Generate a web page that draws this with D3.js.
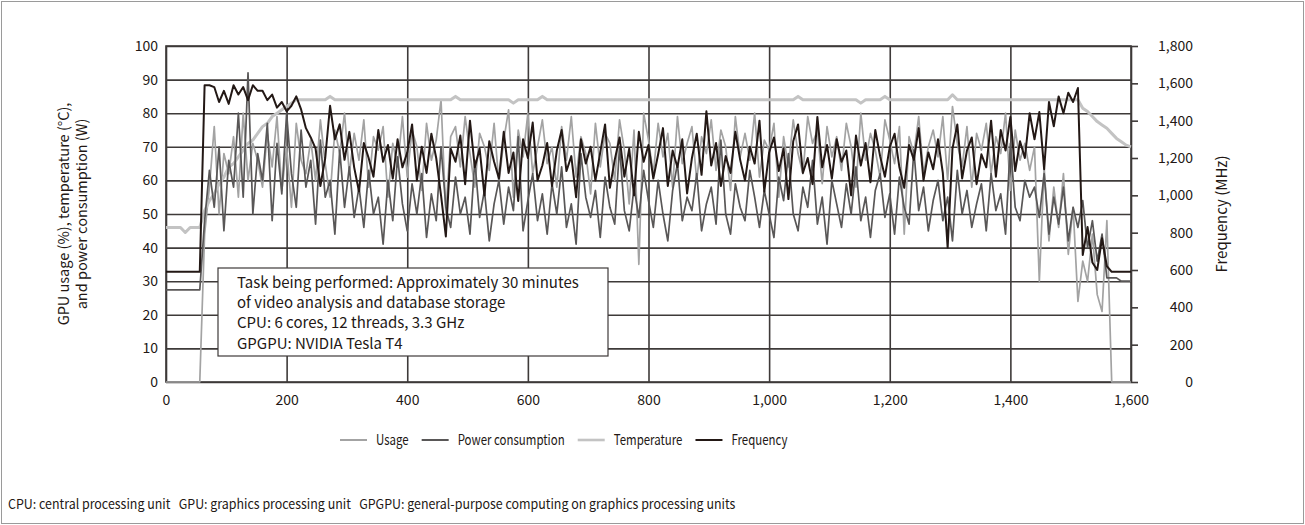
<!DOCTYPE html>
<html>
<head>
<meta charset="utf-8">
<script src="https://cdn.jsdelivr.net/npm/d3@7"></script>
<style>
body{margin:0;background:#fff;}
text{font-family:"Noto Sans CJK JP","Noto Sans",sans-serif;fill:#231815;}
</style>
</head>
<body>
<div id="root"></div>
<script>
//chart values, one sample every 8 time units from 0 to 1,600
var times = d3.range(0, 1601, 8);

var usage = [
 0,0,0,0,0,0,0,0,44,58,
 76,50,68,62,73,55,80,60,71,66,
 58,74,64,79,57,70,52,77,66,62,
 72,60,78,65,55,75,68,80,62,74,
 66,78,58,73,69,76,55,71,64,79,
 61,75,70,57,77,66,72,84,50,73,
 76,64,79,68,58,74,70,63,77,59,
 72,81,55,75,67,80,62,70,78,65,
 70,58,76,66,79,61,73,68,56,77,
 64,74,71,60,78,69,53,75,35,80,
 72,62,77,67,74,58,79,65,71,76,
 60,73,68,78,63,75,70,57,79,67,
 74,66,80,61,72,69,77,55,73,64,
 78,68,62,79,71,75,59,76,67,73,
 63,77,70,58,80,66,74,69,61,78,
 72,65,76,44,73,68,79,62,70,75,
 67,79,60,82,71,64,76,58,74,69,
 77,62,73,68,80,57,75,66,71,63,
 70,30,64,42,58,46,62,38,52,24,
 36,30,44,26,21,48,0,0,0,0,
 0];

var power = [
 27.4,27.4,27.4,27.4,27.4,27.4,27.4,27.4,48,63,
 52,70,45,66,58,80,55,92,50,68,
 60,77,48,71,56,80,62,52,75,58,
 66,47,72,55,60,44,69,52,64,49,
 58,46,63,50,55,41,60,48,67,53,
 45,59,50,62,43,56,48,70,52,46,
 61,50,55,44,66,49,57,42,53,60,
 47,58,51,73,45,54,62,48,56,44,
 59,50,64,46,53,41,68,55,49,57,
 43,61,52,47,70,51,45,58,49,63,
 54,46,60,50,42,57,65,48,55,51,
 62,45,53,58,47,72,50,44,59,52,
 48,63,55,46,57,50,43,61,54,68,
 50,45,58,52,66,47,55,41,60,53,
 46,59,50,64,48,55,43,57,62,49,
 56,44,61,52,47,69,51,58,45,54,
 60,48,55,42,63,50,57,46,53,59,
 45,62,51,56,44,71,52,48,60,55,
 58,49,62,44,55,47,58,42,52,46,
 54,40,48,36,44,31,31,31,30,30,
 30];

var temperature = [
 46,46,46,46,44.5,46,46,46,51,54,
 56,59,61,64,65,67,69,71,72,74,
 76,77,79,80,81,82,83,84,84,84,
 84,84,84,84,85,84,84,84,84,84,
 84,84,84,84,84,84,84,84,84,84,
 84,84,84,84,84,84,84,84,84,84,
 85,84,84,84,84,84,84,84,84,84,
 84,84,83,84,84,84,84,84,85,84,
 84,84,84,84,84,84,84,84,84,84,
 84,84,84,84,84,84,84,84,84,84,
 84,84,84,84,84,84,84,84,84,84,
 84,84,84,84,84,84,84,84,84,84,
 84,84,84,84,84,84,84,84,84,84,
 84,85,84,84,84,84,84,84,84,84,
 84,84,84,84,83,84,84,84,84,85,
 84,84,84,84,84,84,84,84,84,84,
 84,84,84,85.5,84,84,84,84,84,84,
 84,84,84,84,84,84,84,84,84,84,
 84,84,84,84,84,84,84,84,84,84,
 81.5,80.5,79,77.5,76.5,75.5,74,72.5,71.5,70.5,
 70];

var frequency = [
 590,590,590,590,590,590,590,590,1590,1590,
 1580,1500,1560,1490,1590,1540,1580,1510,1590,1560,
 1560,1510,1540,1470,1500,1450,1480,1530,1460,1360,
 1310,1250,1050,1200,1480,1300,1380,1190,1340,1150,
 1020,1280,1200,1100,1350,1180,1270,1090,1300,1150,
 1230,1380,1080,1260,1120,1330,1200,1000,780,1250,
 1180,1320,1060,1400,1150,1250,1000,1290,1180,1090,
 1340,1120,1230,970,1300,1200,1390,1080,1160,1280,
 1050,1240,1350,1130,1210,990,1300,1170,1260,1080,
 1230,1380,1040,1190,1310,1100,1250,1000,1340,1180,
 1270,1090,1220,1360,1050,1240,1150,1300,1010,1200,
 1330,1110,1450,1160,1280,1050,1210,1120,1340,1190,
 1080,1260,1170,1400,1020,1230,1310,1130,1250,980,
 1290,1380,1120,1200,1060,1420,1150,1270,1090,1300,
 1180,1240,1000,1320,1160,1280,1070,1350,1210,1100,
 1260,1330,1150,1040,1270,1190,1360,1080,1230,1140,
 1300,1120,720,1250,1380,1090,1240,1310,1060,1220,
 1150,1400,1100,1350,1240,1420,1130,1290,1200,1440,
 1300,1446,1140,1500,1370,1530,1440,1550,1500,1575,
 680,830,640,600,770,620,590,590,590,590,
 590];

var xTicks = [0,200,400,600,800,1000,1200,1400,1600];
var leftTicks = [0,10,20,30,40,50,60,70,80,90,100];
var rightTicks = [0,200,400,600,800,1000,1200,1400,1600,1800];

var seriesNames = ['Usage','Power consumption','Temperature','Frequency'];
var noteLines = ['Task being performed: Approximately 30 minutes',
                 'of video analysis and database storage',
                 'CPU: 6 cores, 12 threads, 3.3 GHz',
                 'GPGPU: NVIDIA Tesla T4'];
var footnote = 'CPU: central processing unit\u00a0\u00a0\u00a0GPU: graphics processing unit\u00a0\u00a0\u00a0GPGPU: general-purpose computing on graphics processing units';

//d3 boilerplate
var W = 1305, H = 525;
var margin = {t:46, r:174, b:143, l:166};
var w = W - margin.l - margin.r;
var h = H - margin.t - margin.b;

var root = d3.select('#root').append('svg')
   .attr('width', W)
   .attr('height', H);

//outer frame
root.append('rect')
   .attr('x', 1.5).attr('y', 1.5)
   .attr('width', W - 3).attr('height', H - 3)
   .attr('fill', 'none')
   .attr('stroke', '#9a9a9a')
   .attr('stroke-width', 1);

var svg = root.append('g')
   .attr('transform', 'translate(' + margin.l + ',' + margin.t + ')');

//scales
var xScale = d3.scaleLinear().domain([0, 1600]).range([0, w]);
var yLeft = d3.scaleLinear().domain([0, 100]).range([h, 0]);
var yRight = d3.scaleLinear().domain([0, 1800]).range([h, 0]);

var gridColor = '#3e3a39';

//axes, tick lines used as grid
var xAxis = svg.append('g')
   .attr('transform', 'translate(0,' + h + ')')
   .call(d3.axisBottom(xScale).tickValues(xTicks).tickSize(-h).tickPadding(13).tickFormat(d3.format(',')));

var yAxis = svg.append('g')
   .call(d3.axisLeft(yLeft).tickValues(leftTicks).tickSize(-w).tickPadding(8));

var yAxis2 = svg.append('g')
   .attr('transform', 'translate(' + w + ',0)')
   .call(d3.axisRight(yRight).tickValues(rightTicks).tickSize(7).tickFormat(d3.format(',')));

yAxis2.selectAll('text').attr('text-anchor', 'end').attr('x', 62);

[xAxis, yAxis, yAxis2].forEach(function(a){
   a.select('.domain').remove();
   a.selectAll('line').attr('stroke', gridColor).attr('stroke-width', 1.6);
   a.selectAll('text').style('font-size', '14px').attr('fill', '#231815');
});

//frame of the plot
svg.append('rect')
   .attr('width', w).attr('height', h)
   .attr('fill', 'none')
   .attr('stroke', gridColor)
   .attr('stroke-width', 1.6);

//lines
var lineLeft = d3.line()
   .x(function(d, i){ return xScale(times[i]); })
   .y(function(d){ return yLeft(d); });

var lineRight = d3.line()
   .x(function(d, i){ return xScale(times[i]); })
   .y(function(d){ return yRight(d); });

var styles = [
   {color:'#a3a3a3', width:1.7},
   {color:'#595757', width:1.7},
   {color:'#c3c3c3', width:3},
   {color:'#231815', width:2}
];

svg.append('path').datum(usage)
   .attr('d', lineLeft).attr('fill', 'none')
   .attr('stroke', styles[0].color).attr('stroke-width', styles[0].width)
   .attr('stroke-linejoin', 'round');

svg.append('path').datum(temperature)
   .attr('d', lineLeft).attr('fill', 'none')
   .attr('stroke', styles[2].color).attr('stroke-width', styles[2].width)
   .attr('stroke-linejoin', 'round');

svg.append('path').datum(power)
   .attr('d', lineLeft).attr('fill', 'none')
   .attr('stroke', styles[1].color).attr('stroke-width', styles[1].width)
   .attr('stroke-linejoin', 'round');

svg.append('path').datum(frequency)
   .attr('d', lineRight).attr('fill', 'none')
   .attr('stroke', styles[3].color).attr('stroke-width', styles[3].width)
   .attr('stroke-linejoin', 'round');

//note box
var note = svg.append('g').attr('transform', 'translate(' + (218 - margin.l) + ',' + (268 - margin.t) + ')');
note.append('rect')
   .attr('width', 390).attr('height', 88)
   .attr('fill', '#fff')
   .attr('stroke', gridColor)
   .attr('stroke-width', 1.2);
var noteY = [15, 34.5, 55, 76];
note.selectAll('text').data(noteLines).enter().append('text')
   .attr('x', 19)
   .attr('y', function(d, i){ return noteY[i]; })
   .attr('dy', '0.35em')
   .style('font-size', '15px')
   .text(function(d){ return d; });

//axis titles
var leftTitle = root.append('g').attr('transform', 'translate(64,214) rotate(-90)');
leftTitle.append('text').attr('text-anchor', 'middle').attr('dy', '0.35em')
   .style('font-size', '14.5px').text('GPU usage (%), temperature (\u00b0C),');
leftTitle.append('text').attr('text-anchor', 'middle').attr('y', 18).attr('dy', '0.35em')
   .style('font-size', '14.5px').text('and power consumption (W)');

root.append('text')
   .attr('transform', 'translate(1222,214) rotate(-90)')
   .attr('text-anchor', 'middle').attr('dy', '0.35em')
   .style('font-size', '15px')
   .text('Frequency (MHz)');

//legend (the reference type is condensed)
var legend = root.append('g').attr('transform', 'translate(340,440)');
var lx = 0;
seriesNames.forEach(function(name, i){
   legend.append('line')
      .attr('x1', lx).attr('x2', lx + 27)
      .attr('stroke', styles[i].color)
      .attr('stroke-width', i == 2 ? 2.6 : 2);
   var t = legend.append('text')
      .attr('x', lx + 36).attr('dy', '0.35em')
      .style('font-size', '14.5px')
      .text(name);
   var len = t.node().getComputedTextLength() * 0.79;
   t.attr('textLength', len).attr('lengthAdjust', 'spacingAndGlyphs');
   lx = lx + 36 + len + 13;
});

//footnote
var foot = root.append('text')
   .attr('x', 8).attr('y', 504).attr('dy', '0.35em')
   .style('font-size', '13.5px')
   .text(footnote);
foot.attr('textLength', foot.node().getComputedTextLength() * 0.92)
   .attr('lengthAdjust', 'spacingAndGlyphs');
</script>
</body>
</html>
